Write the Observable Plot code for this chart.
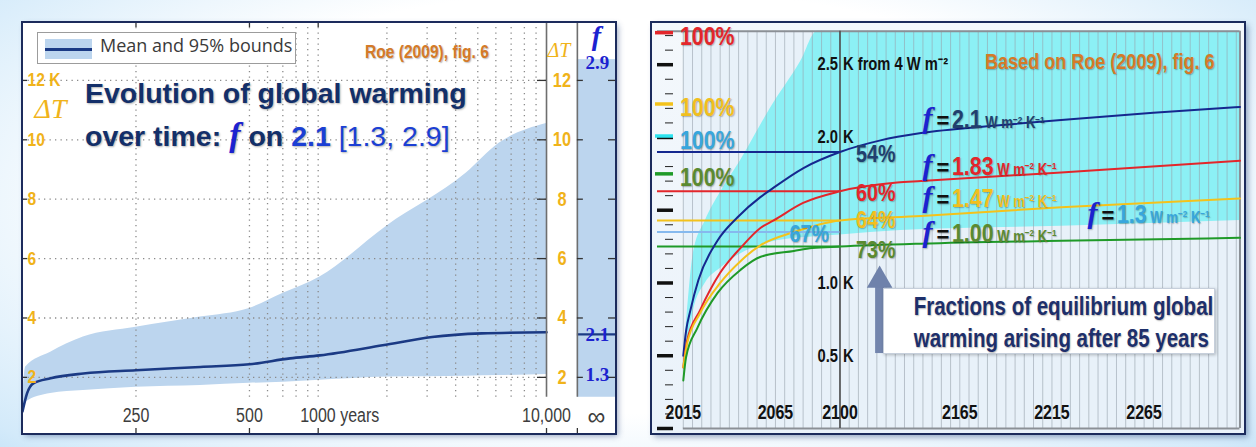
<!DOCTYPE html>
<html>
<head>
<meta charset="utf-8">
<script src="https://cdn.jsdelivr.net/npm/d3@7"></script>
<script src="https://cdn.jsdelivr.net/npm/@observablehq/plot@0.6"></script>
<style>
  html, body { margin: 0; padding: 0; }
  body { width: 1256px; height: 447px; overflow: hidden; position: relative;
    background: radial-gradient(ellipse 80% 95% at 50% 45%, #ffffff 50%, #d3eafa 82%, #a9d4f3 100%); }
  .abs { position: absolute; white-space: nowrap; }
  sup { font-size: 0.62em; position: relative; top: -0.55em; vertical-align: baseline; line-height: 0; }
</style>
</head>
<body>
<script>
// ================= LEFT PANEL DATA (years after forcing, ΔT in K) =================
const bandYears  = [0, 7, 62, 134, 250, 392, 500, 703, 1017, 2000, 4443, 6200, 10000];
const bandLower  = [0.85, 1.17, 1.46, 1.56, 1.67, 1.73, 1.80, 1.84, 1.90, 2.01, 2.04, 2.06, 2.10];
const bandUpper  = [1.20, 2.35, 2.85, 3.36, 3.69, 4.03, 4.32, 4.83, 5.38, 7.10, 8.87, 9.88, 10.55];
const meanYears  = [0, 10, 24, 62, 134, 250, 392, 500, 753, 1017, 1917, 3155, 5211, 10000];
const meanValues = [0.85, 1.46, 1.80, 1.97, 2.13, 2.24, 2.35, 2.44, 2.64, 2.74, 3.08, 3.36, 3.48, 3.52];
const xTickYears  = [250, 500, 1000, 10000];
const xTickLabels = ["250", "500", "1000 years", "10,000"];
const gridYears   = [250, 500, 600, 700, 800, 900, 1000, 2000, 3000, 4000, 5000, 6000, 7000, 8000, 9000];
const dTTicks     = [2, 4, 6, 8, 10, 12];
const fLabels     = ["2.9", "2.1", "1.3"];
const fLabelDT    = [12.6, 3.42, 2.07];
const fColumnBand = [1.33, 12.7];   // equilibrium (t = ∞) range shown in the f column
const fColumnMean = 3.45;

// ================= RIGHT PANEL DATA (year, warming in K) =================
const navyYears   = [2015, 2016.5, 2018.8, 2023.2, 2033.5, 2044.3, 2056.8, 2062.3, 2080.2, 2100, 2122, 2144, 2183, 2220, 2270, 2317];
const navyK       = [0.50, 0.67, 0.81, 1.02, 1.29, 1.45, 1.59, 1.64, 1.79, 1.90, 1.98, 2.03, 2.08, 2.12, 2.17, 2.21];
const redYears    = [2015, 2017, 2024, 2035, 2046, 2057, 2064, 2080, 2100, 2131, 2144, 2220, 2317];
const redK        = [0.42, 0.60, 0.81, 1.07, 1.24, 1.38, 1.43, 1.55, 1.63, 1.69, 1.70, 1.76, 1.84];
const yellowYears = [2015, 2017, 2024, 2035, 2046, 2057, 2075, 2100, 2144, 2220, 2317];
const yellowK     = [0.42, 0.58, 0.79, 1.00, 1.15, 1.26, 1.35, 1.43, 1.46, 1.52, 1.58];
const greenYears  = [2015, 2016.5, 2022.6, 2033.5, 2046, 2057, 2075, 2085, 2100, 2144, 2220, 2317];
const greenK      = [0.33, 0.49, 0.69, 0.93, 1.09, 1.18, 1.22, 1.24, 1.25, 1.27, 1.29, 1.31];
const cyanYears   = [2015, 2017.7, 2020.4, 2027, 2035, 2046, 2056.8, 2062.3, 2078.6, 2087.8, 2100, 2133, 2220, 2317];
const cyanHigh    = [0.45, 0.88, 1.20, 1.43, 1.62, 1.84, 2.08, 2.20, 2.52, 2.73, 2.73, 2.73, 2.73, 2.73];
const cyanLow     = [0.42, 0.60, 0.80, 1.00, 1.10, 1.20, 1.26, 1.28, 1.31, 1.32, 1.33, 1.36, 1.39, 1.43];
const fValues     = ["2.1", "1.83", "1.47", "1.00", "1.3"];
const at2100      = [1.90, 1.63, 1.43, 1.25, 1.35];      // warming reached in 2100
const equilibrium = [null, 2.72, 2.23, 1.75, 2.01];      // 100% (equilibrium) level
const percents    = ["54%", "60%", "64%", "73%", "67%"];
const yearTicks   = [2015, 2065, 2100, 2165, 2215, 2265];
const kLabels     = [2.5, 2.0, 1.0, 0.5];

// ================= STYLE =================
const SANS = "'Liberation Sans',Arial,sans-serif";
const SERIF = "'Liberation Serif','Times New Roman',serif";
const OPEN = "'Open Sans',sans-serif";
const NX = 0.82;  // horizontal condensing (narrow face)
const gold = "#f0b31a", navy = "#1b3a84", bandFill = "#bcd5ee", fBlue = "#1c22d0";
const sColors = ["#15288f", "#e3262b", "#f4c21b", "#1f9a28", "#86b9ee"];
const tColors = ["#213f6e", "#e3262b", "#f1bf1e", "#5b8a30", "#38a6dd"];
const shadow = "1px 1px 1.5px rgba(0,0,0,0.28)";

function addDiv(html, css) {
  const d = document.createElement("div");
  d.className = "abs"; d.innerHTML = html; d.style.cssText = css;
  document.body.appendChild(d); return d;
}
const nar = (html, origin = "left") => `<span style="display:inline-block;transform:scaleX(${NX});transform-origin:${origin} center">${html}</span>`;
function condense(svg) {
  svg.querySelectorAll("g.narrow text").forEach(t => {
    let tr = t.getAttribute("transform");
    if (!tr) {
      tr = `translate(${t.getAttribute("x") || 0},${t.getAttribute("y") || 0})`;
      t.removeAttribute("x"); t.removeAttribute("y");
    }
    t.setAttribute("transform", tr + ` scale(${NX},1)`);
  });
}

// panel backgrounds
addDiv("", "left:22px;top:22px;width:593px;height:411px;background:#fff;box-shadow:3px 3px 6px rgba(30,60,120,.45)");
addDiv("", "left:651px;top:22px;width:594px;height:412px;background:linear-gradient(180deg,#f4f8fc,#eaf2fa);box-shadow:3px 3px 6px rgba(30,60,120,.45)");

// ================= LEFT PLOT =================
const pxPerU = 0.454, pxPerK = 29.7;
const uOf = t => t <= 500 ? t : 500 + 503 * Math.log10(t / 500);   // linear to 500 yr, log beyond
const px = p => p / pxPerU, py = p => p / pxPerK;
const uSep1 = uOf(10000), uSep2 = uSep1 + 68, uMax = uSep2 + 84;
const yBot = 0.11, yTop = 13.95, stripTop = 1.33;
const band = bandYears.map((t, i) => ({u: uOf(t), lo: bandLower[i], hi: bandUpper[i]}));
const mean = meanYears.map((t, i) => ({u: uOf(t), v: meanValues[i]}));
const xTicks = xTickYears.map((t, i) => ({u: uOf(t), label: xTickLabels[i]}));
const fLab = fLabels.map((l, i) => ({l, v: fLabelDT[i]}));

const left = Plot.plot({
  width: 593, height: 411, margin: 0, axis: null,
  x: {domain: [0, uMax]}, y: {domain: [yBot, yTop]},
  style: {background: "transparent", overflow: "visible"},
  marks: [
    Plot.areaY(band, {x: "u", y1: "lo", y2: "hi", fill: bandFill, curve: "monotone-x"}),
    Plot.rect([{lo: fColumnBand[0], hi: fColumnBand[1]}], {x1: uSep2, x2: uMax, y1: "lo", y2: "hi", fill: bandFill}),
    Plot.ruleX(gridYears, {x: uOf, y1: stripTop, y2: yTop, stroke: "#8a8a8a", strokeWidth: 1.3, strokeDasharray: "1.3,4.2"}),
    Plot.ruleY(dTTicks, {x1: 0, x2: uSep1, stroke: "#8a8a8a", strokeWidth: 1.3, strokeDasharray: "1.3,4.2"}),
    Plot.line(mean, {x: "u", y: "v", stroke: navy, strokeWidth: 2.6, curve: "monotone-x"}),
    Plot.ruleY([fColumnMean], {x1: uSep2, x2: uMax, stroke: navy, strokeWidth: 2.2}),
    Plot.ruleX([uSep1, uSep2], {y1: stripTop, y2: yTop, stroke: "#6e6e6e", strokeWidth: 1.6}),
    Plot.ruleY(dTTicks, {x1: 0, x2: px(5), stroke: "#333", strokeWidth: 1.3}),
    Plot.ruleY(dTTicks, {x1: uSep1 - px(9), x2: uSep1, stroke: "#333", strokeWidth: 1.3}),
    Plot.ruleY(dTTicks, {x1: uSep2, x2: uSep2 + px(6), stroke: "#333", strokeWidth: 1.3}),
    Plot.ruleY(dTTicks, {x1: uMax - px(7), x2: uMax, stroke: "#333", strokeWidth: 1.3}),
    Plot.ruleX(xTicks.map(d => d.u).concat([uSep2]), {y1: yBot, y2: yBot + py(5), stroke: "#333", strokeWidth: 1.3}),
    Plot.ruleX(xTicks.slice(0, 3).map(d => d.u), {y1: yTop - py(5), y2: yTop, stroke: "#333", strokeWidth: 1.3}),
    // tick labels
    Plot.text(dTTicks, {x: 0, y: d => d, text: d => d === 12 ? "12 K" : String(d), textAnchor: "start", dx: 5,
      fill: gold, fontFamily: SANS, fontWeight: "bold", fontSize: 19, className: "narrow"}),
    Plot.text(["ΔT"], {x: 0, y: 11.05, text: d => d, textAnchor: "start", dx: 12, fill: gold,
      fontFamily: SERIF, fontStyle: "italic", fontSize: 28}),
    Plot.text(dTTicks, {x: (uSep1 + uSep2) / 2, y: d => d, text: String, fill: gold, fontFamily: SANS, fontWeight: "bold", fontSize: 20, className: "narrow"}),
    Plot.text(["ΔT"], {x: (uSep1 + uSep2) / 2, y: 13.0, text: d => d, fill: gold, fontFamily: SERIF, fontStyle: "italic", fontSize: 20, dx: -3}),
    Plot.text(["f"], {x: (uSep2 + uMax) / 2, y: 13.5, text: d => d, fill: fBlue, fontFamily: SERIF, fontStyle: "italic", fontWeight: "bold", fontSize: 28}),
    Plot.text(fLab, {x: (uSep2 + uMax) / 2, y: "v", text: "l", fill: fBlue, fontFamily: SERIF, fontWeight: "bold", fontSize: 19, dx: 1}),
    Plot.text(xTicks.filter(d => !d.label.includes("years")), {x: "u", text: "label", frameAnchor: "bottom", lineAnchor: "middle", dy: -18, fill: "#3d3d3d",
      fontFamily: SANS, fontSize: 19.5, className: "narrow"}),
    Plot.text(xTicks.filter(d => d.label.includes("years")), {x: "u", text: "label", frameAnchor: "bottom", lineAnchor: "middle", dy: -18, dx: -18, textAnchor: "start",
      fill: "#3d3d3d", fontFamily: SANS, fontSize: 19.5, className: "narrow"}),
    Plot.text(["∞"], {x: (uSep2 + uMax) / 2, text: d => d, frameAnchor: "bottom", lineAnchor: "middle", dy: -17, fill: "#3d3d3d", fontFamily: SANS, fontSize: 25})
  ]
});
condense(left);
left.style.position = "absolute"; left.style.left = "22px"; left.style.top = "22px";
document.body.appendChild(left);

// left overlays: legend, source, title
addDiv(`<div style="position:absolute;left:7px;top:6px;width:47px;height:20px;background:${bandFill}"><div style="position:absolute;left:0;right:0;top:9px;height:2.6px;background:${navy}"></div></div>
<div style="position:absolute;left:62px;top:0;line-height:31px;font:18px ${OPEN};color:#3a3a3a">Mean and 95% bounds</div>`,
  "left:37px;top:32px;width:259px;height:32px;box-sizing:border-box;border:1px solid #9c9c9c;background:#fff");
addDiv(nar("Roe (2009), fig. 6"), `left:365px;top:52px;transform:translateY(-50%);font:bold 19px ${SANS};color:#d57a28;text-shadow:${shadow}`);
addDiv(`Evolution of global warming<br>over time: <span style="font:italic bold 34px ${SERIF};color:${fBlue}">f</span> on <span style="color:#1b3fd4">2.1</span> <span style="font-weight:normal;color:#1b3fd4">[1.3, 2.9]</span>`,
  `left:85px;top:72px;font:bold 28.5px ${SANS};line-height:43px;color:#132f69;text-shadow:1px 1px 2px rgba(0,0,0,0.3)`);

// ================= RIGHT PLOT =================
const ppy = 1.843, x0 = 2001, yearStart = 2015, yearEnd = 2317, kTop = 2.73;
const yr = p => x0 + p / ppy;       // pixel offset in the tick column → year units
const cyan = cyanYears.map((y, i) => ({year: y, lo: cyanLow[i], hi: cyanHigh[i]}));
const mk = (ys, ks) => ys.map((y, i) => ({year: y, k: ks[i]}));
const curves = [mk(navyYears, navyK), mk(redYears, redK), mk(yellowYears, yellowK), mk(greenYears, greenK)];
const refs = at2100.map((v, i) => ({v, c: sColors[i]}));
const eqColors = ["", sColors[1], sColors[2], sColors[3], "#2de3ef"];
const eqs = equilibrium.map((v, i) => ({v, c: eqColors[i]})).filter(d => d.v != null);
const minorK = d3.range(0, 28).map(i => i / 10);
const majorK = [0, 0.5, 1.0, 1.5, 2.0, 2.5];
const stripes = d3.range(yearStart, yearEnd, 5);

const right = Plot.plot({
  width: 594, height: 412, marginLeft: 6, marginRight: 0, marginTop: 0, marginBottom: 6, axis: null,
  x: {domain: [x0, 2320]}, y: {domain: [0, 2.79]}, color: {type: "identity"},
  style: {background: "transparent", overflow: "visible"},
  marks: [
    Plot.rect([0], {x1: yearStart, x2: yearEnd, y1: 0, y2: kTop, fill: "#e8f1f9"}),
    Plot.areaY(cyan, {x: "year", y1: "lo", y2: "hi", fill: "#8cf0f5", curve: "monotone-x"}),
    Plot.ruleX(stripes, {y1: 0, y2: kTop, stroke: "#98a2ab", strokeOpacity: 0.6, strokeWidth: 1}),
    Plot.ruleY([kTop], {x1: x0, x2: yearEnd, stroke: "#8b9096", strokeWidth: 2}),
    Plot.ruleY([0], {x1: yearStart, x2: yearEnd, stroke: "#8b9096", strokeWidth: 2}),
    Plot.ruleX([yearEnd], {y1: 0, y2: kTop, stroke: "#8b9096", strokeWidth: 2}),
    Plot.ruleX([2100], {y1: 0, y2: kTop, stroke: "#4d4d4d", strokeWidth: 1.6}),
    Plot.ruleY(minorK, {x1: yr(8), x2: yr(16), stroke: "#222", strokeWidth: 1}),
    Plot.ruleY(majorK, {x1: yr(0), x2: yr(16), stroke: "#111", strokeWidth: 3.5}),
    Plot.ruleY(eqs, {y: "v", x1: yr(-2), x2: yr(16), stroke: "c", strokeWidth: 3.5}),
    Plot.ruleY(refs, {y: "v", x1: x0, x2: 2100, stroke: "c", strokeWidth: 2}),
    ...curves.map((c, i) => Plot.line(c, {x: "year", y: "k", stroke: sColors[i], strokeWidth: 2, curve: "monotone-x"})),
    Plot.ruleX([2121.5], {y1: 0.515, y2: 1.0, stroke: "#7385ad", strokeWidth: 9}),
    Plot.dot([2121.5], {x: d => d, y: 1.12, symbol: "triangle", r: 9.5, fill: "#6f82ab", dy: 14.8}),
    Plot.text(kLabels, {x: 2100, y: d => d, text: d => d.toFixed(1), textAnchor: "end", dx: -2, fill: "#111",
      fontFamily: SANS, fontWeight: "bold", fontSize: 18, className: "narrow"}),
    Plot.text(kLabels, {x: 2100, y: d => d, text: d => d === 2.5 ? "K from 4 W m⁻²" : "K", textAnchor: "start", dx: 3, fill: "#111",
      fontFamily: SANS, fontWeight: "bold", fontSize: 18, className: "narrow"}),
    Plot.text(yearTicks, {x: d => d, text: String, frameAnchor: "bottom", lineAnchor: "middle", dy: -16, fill: "#111",
      fontFamily: SANS, fontWeight: "bold", fontSize: 19.5, className: "narrow"})
  ]
});
condense(right);
right.style.position = "absolute"; right.style.left = "651px"; right.style.top = "22px";
document.body.appendChild(right);

const xs = v => 651 + right.scale("x").apply(v), ys = v => 22 + right.scale("y").apply(v);

// 100% labels at equilibrium levels
equilibrium.forEach((v, i) => {
  if (v == null) return;
  addDiv(nar("100%"), `left:${xs(yearStart) - 3}px;top:${ys(v) + 4}px;transform:translateY(-50%);line-height:0.9;font:bold 26px ${SANS};color:${tColors[i]};text-shadow:${shadow}`);
});
// percentage of equilibrium reached by 2100
const pctDy = [2, 2, 0, 4, 2];
percents.forEach((p, i) => {
  const isLB = i === 4;
  addDiv(nar(p, isLB ? "right" : "left"), `left:${isLB ? xs(2100) - 10 : xs(2100) + 17}px;top:${ys(at2100[i]) + pctDy[i]}px;transform:translate(${isLB ? "-100%" : "0"},-50%);font:bold 24px/0.85 ${SANS};color:${tColors[i]};text-shadow:${shadow}`);
});
// f labels
const fLabelYear = [2145, 2145, 2145, 2145, 2234.6];
const fLabelK = [2.13, 1.81, 1.59, 1.35, 1.48];
fValues.forEach((f, i) => {
  const c = tColors[i];
  addDiv(`<span style="font:italic bold 30px/0.85 ${SERIF};color:${fBlue}">f</span><span style="font:bold 22px/0.85 ${SANS};color:#111;margin:0 3px 0 4px">=</span>` +
    nar(`<span style="font:bold 26px/0.85 ${SANS};color:${c}">${f}</span><span style="font:bold 16px/0.85 ${SANS};color:${c}"> W m<sup>−2</sup> K<sup>−1</sup></span>`),
    `left:${xs(fLabelYear[i])}px;top:${ys(fLabelK[i])}px;transform:translateY(-50%);line-height:0.85;text-shadow:${shadow}`);
});
addDiv(nar("Based on Roe (2009), fig. 6"), `left:985px;top:62px;transform:translateY(-50%);font:bold 22px ${SANS};color:#d57a28;text-shadow:${shadow}`);
addDiv(`<div style="transform:scaleX(${NX});transform-origin:center">Fractions of equilibrium global<br>warming arising after 85 years</div>`,
  `left:883px;top:288px;width:332px;height:66px;box-sizing:border-box;background:#fff;border:1px solid #c6cfdb;box-shadow:1px 1px 3px rgba(0,0,0,.25);font:bold 25px ${SANS};color:#1d2f6b;text-align:center;line-height:32px;padding-top:1px;text-shadow:${shadow}`);

// panel frames on top
addDiv("", "left:21px;top:21px;width:596px;height:414px;box-sizing:border-box;border:2.5px solid #1c2b5c;pointer-events:none");
addDiv("", "left:650px;top:21px;width:596px;height:414px;box-sizing:border-box;border:2.5px solid #1c2b5c;pointer-events:none");
</script>
</body>
</html>
